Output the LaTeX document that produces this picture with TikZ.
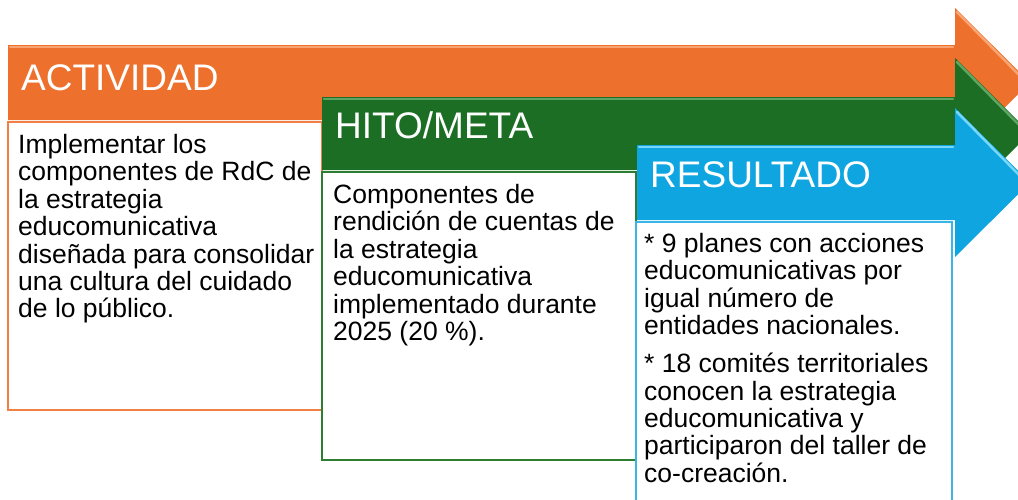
\documentclass[tikz,border=0pt]{standalone}
\usepackage{fontspec}
\setmainfont{Liberation Sans}
\usepackage{tikz}
\usetikzlibrary{positioning}

\definecolor{actorange}{RGB}{238,112,45}
\definecolor{actorangelt}{RGB}{248,165,115}
\definecolor{actorangeln}{RGB}{240,128,70}
\definecolor{hitogreen}{RGB}{27,110,35}
\definecolor{hitogreenlt}{RGB}{95,165,100}
\definecolor{hitogreenln}{RGB}{45,125,50}
\definecolor{resblue}{RGB}{14,165,224}
\definecolor{resbluelt}{RGB}{120,215,248}
\definecolor{resblueln}{RGB}{60,180,230}

\tikzset{
  heading/.style={anchor=base west, inner sep=0pt, text=white,
    font=\fontsize{37}{40}\selectfont},
  bodytext/.style={anchor=north west, inner sep=0pt, align=left, text=black,
    font=\fontsize{26.5}{27.4}\selectfont},
  panel/.style={fill=white, line width=1.6pt},
  bevel/.style={line width=2.5pt, line cap=round}
}

\begin{document}
\begin{tikzpicture}[x=1pt, y=-1pt]
        \useasboundingbox (0, 0) rectangle (1018, 499);
        \clip (0, 0) rectangle (1018, 499);
        % ACTIVIDAD
        \fill[actorange] (8, 45) -- (955, 45) -- (955, 8) -- (1030, 82.5) -- (955, 157) -- (955, 120) -- (8, 120) -- cycle;
        \draw[bevel, actorangelt] (10, 47) -- (953, 47);
        \draw[bevel, actorangelt] (957, 12) -- (1026, 82);
        \node[heading] (act) at (21, 90) {ACTIVIDAD};
        \draw[panel, draw=actorangeln] (8, 122) rectangle (322, 410);
        \node[bodytext] (acttxt) at (18, 134) {Implementar los\\componentes de RdC de\\la estrategia\\educomunicativa\\diseñada para consolidar\\una cultura del cuidado\\de lo público.};
        % HITO/META
        \fill[hitogreen] (322, 97) -- (955, 97) -- (955, 58) -- (1030, 133) -- (955, 208) -- (955, 170) -- (322, 170) -- cycle;
        \draw[bevel, hitogreenlt] (324, 99) -- (953, 99);
        \draw[bevel, hitogreenlt] (957, 62) -- (1026, 132);
        \node[heading] (hito) at (335, 138) {HITO/META};
        \draw[panel, draw=hitogreenln] (322, 172) rectangle (636, 460);
        \node[bodytext] (hitotxt) at (333, 184) {Componentes de\\rendición de cuentas de\\la estrategia\\educomunicativa\\implementado durante\\2025 (20 \%).};
        % RESULTADO
        \fill[resblue] (637, 145) -- (955, 145) -- (955, 108) -- (1030, 182.5) -- (955, 257) -- (955, 220) -- (637, 220) -- cycle;
        \draw[bevel, resbluelt] (639, 147) -- (953, 147);
        \draw[bevel, resbluelt] (957, 112) -- (1026, 182);
        \node[heading] (res) at (650, 187) {RESULTADO};
        \draw[panel, draw=resblueln] (636, 222) rectangle (952, 520);
        \node[bodytext] (restxt) at (644, 233) {* 9 planes con acciones\\educomunicativas por\\igual número de\\entidades nacionales.\\[10.6pt]* 18 comités territoriales\\conocen la estrategia\\educomunicativa y\\participaron del taller de\\co-creación.};
      \end{tikzpicture}
\end{document}
